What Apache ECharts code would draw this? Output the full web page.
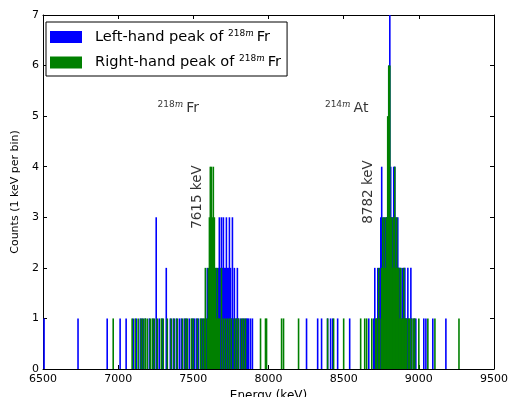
<!DOCTYPE html>
<html>
<head>
<meta charset="utf-8">
<script src="https://cdn.jsdelivr.net/npm/echarts@6/dist/echarts.min.js"></script>
<style>
  html, body { margin: 0; padding: 0; background: #fff; }
  #chart { width: 514px; height: 397px; }
</style>
</head>
<body>
<div id="chart"></div>
<script>
// 1 keV per bin histograms, only the non-empty bins are listed
const blueE = [6507, 6733, 6927, 7013, 7053, 7100, 7120, 7147, 7160, 7180, 7207, 7233, 7253, 7273, 7293, 7320,
  7347, 7367, 7387, 7407, 7420, 7440, 7453, 7473, 7493, 7507, 7520, 7533, 7553, 7567, 7587, 7593, 7600, 7613,
  7627, 7640, 7653, 7667, 7673, 7680, 7687, 7693, 7700, 7707, 7713, 7720, 7727, 7733, 7740, 7747, 7753, 7760,
  7767, 7773, 7780, 7787, 7793, 7800, 7813, 7827, 7840, 7853, 7860, 7867, 7880, 7893, 8253, 8327, 8353, 8393,
  8413, 8427, 8460, 8540, 8667, 8700, 8707, 8720, 8727, 8733, 8740, 8747, 8753, 8760, 8767, 8773, 8780, 8787,
  8793, 8800, 8807, 8813, 8820, 8827, 8833, 8840, 8847, 8853, 8860, 8867, 8873, 8880, 8887, 8893, 8900, 8907,
  8913, 8920, 8927, 8933, 8947, 8953, 8967, 8980, 9033, 9047, 9093, 9180];
const blueN = [1, 1, 1, 1, 1, 1, 1, 1, 1, 1, 1, 1, 3, 1, 1, 2,
  1, 1, 1, 1, 1, 1, 1, 1, 1, 1, 1, 1, 1, 1, 1, 2, 1, 1,
  2, 1, 2, 2, 3, 2, 3, 2, 3, 2, 2, 3, 2, 2, 3, 2, 1, 3,
  1, 2, 1, 1, 2, 1, 1, 1, 1, 1, 1, 1, 1, 1, 1, 1, 1, 1,
  1, 1, 1, 1, 1, 1, 2, 1, 2, 1, 2, 3, 4, 2, 3, 2, 3, 3,
  3, 6, 7, 4, 3, 3, 4, 4, 3, 2, 3, 2, 2, 2, 1, 2, 1, 2,
  1, 1, 2, 1, 2, 1, 1, 1, 1, 1, 1, 1];

const greenE = [6967, 7093, 7113, 7133, 7153, 7167, 7180, 7193, 7213, 7227, 7240, 7260, 7287, 7300, 7327, 7353,
  7373, 7393, 7427, 7447, 7460, 7487, 7500, 7527, 7547, 7560, 7573, 7580, 7593, 7600, 7607, 7613, 7620, 7627,
  7633, 7640, 7647, 7653, 7660, 7667, 7673, 7687, 7700, 7713, 7727, 7740, 7753, 7773, 7787, 7800, 7820, 7833,
  7847, 7947, 7980, 7987, 8087, 8100, 8200, 8393, 8433, 8500, 8613, 8640, 8653, 8687, 8713, 8720, 8733, 8740,
  8753, 8760, 8767, 8773, 8780, 8787, 8793, 8800, 8807, 8813, 8820, 8827, 8833, 8840, 8847, 8853, 8860, 8867,
  8873, 8880, 8887, 8893, 8900, 8907, 8913, 8920, 8933, 8940, 8953, 8967, 8973, 9000, 9060, 9107, 9267];
const greenN = [1, 1, 1, 1, 1, 1, 1, 1, 1, 1, 1, 1, 1, 1, 1, 1,
  1, 1, 1, 1, 1, 1, 1, 1, 1, 1, 1, 2, 1, 2, 3, 4, 4, 3,
  4, 3, 2, 1, 2, 1, 1, 2, 1, 1, 1, 1, 1, 1, 1, 1, 1, 1,
  1, 1, 1, 1, 1, 1, 1, 1, 1, 1, 1, 1, 1, 1, 1, 1, 2, 1,
  2, 3, 2, 3, 2, 3, 5, 6, 6, 3, 3, 2, 3, 4, 2, 3, 2, 2,
  1, 2, 1, 1, 2, 1, 1, 1, 1, 1, 1, 1, 1, 1, 1, 1, 1];

const xTicks = [6500, 7000, 7500, 8000, 8500, 9000, 9500];
const yTicks = [0, 1, 2, 3, 4, 5, 6, 7];

// text annotations: [energy, counts, text]
const notes = [
  [7400, 5.15, '{n|218}{i|m}{b|Fr}'],
  [8520, 5.15, '{n|214}{i|m}{b|At}'],
  [7530, 3.4, '7615 keV'],
  [8667, 3.5, '8782 keV'],
];

const FONT = 'DejaVu Sans';
const BLUE = '#0000ff';
const GREEN = '#008000';

const pairs = (es, ns) => es.map((e, i) => [e, ns[i]]);

const supRich = (size) => ({
  n: { fontSize: 9, fontFamily: FONT, padding: [0, 0, 7, 0], color: '#000' },
  i: { fontSize: 9, fontFamily: 'DejaVu Serif', fontStyle: 'italic', padding: [0, 3, 7, 0], color: '#000' },
  b: { fontSize: size, fontFamily: FONT, color: '#000' },
  p: { fontSize: size, fontFamily: FONT, color: '#000', padding: [0, 0, 0, 8] },
});

const frameAxis = {
  axisLine: { show: true, onZero: false, lineStyle: { color: '#000', width: 1 } },
  axisTick: { show: true, inside: true, length: 4, lineStyle: { color: '#000' } },
  splitLine: { show: false },
};

const chart = echarts.init(document.getElementById('chart'), null, { renderer: 'canvas' });
chart.setOption({
  animation: false,
  backgroundColor: '#fff',
  grid: { left: 43, right: 20, top: 15, bottom: 28, outerBoundsMode: 'none', containLabel: false },
  legend: {
    data: ['Left-hand peak of 218m Fr', 'Right-hand peak of 218m Fr'],
    orient: 'vertical',
    left: 46, top: 22,
    padding: [7, 6, 6, 4],
    itemGap: 10,
    itemWidth: 32, itemHeight: 12,
    icon: 'rect',
    backgroundColor: '#fff',
    borderColor: '#000', borderWidth: 1,
    formatter: (n) => '{p|' + n.replace(' 218m Fr', '') + ' }{n|218}{i|m}{b|Fr}',
    textStyle: { rich: supRich(14.6) },
  },
  xAxis: [
    {
      type: 'value', min: 6500, max: 9500, interval: 500,
      ...frameAxis,
      axisLabel: { color: '#000', fontFamily: FONT, fontSize: 11, margin: 5,
        formatter: (v) => xTicks.includes(v) ? String(v) : '' },
      name: 'Energy (keV)', nameLocation: 'middle', nameGap: 15,
      nameTextStyle: { color: '#000', fontFamily: FONT, fontSize: 12 },
    },
    { type: 'value', position: 'top', min: 6500, max: 9500, interval: 500, ...frameAxis, axisLabel: { show: false } },
  ],
  yAxis: [
    {
      type: 'value', min: 0, max: 7, interval: 1,
      ...frameAxis,
      axisLabel: { color: '#000', fontFamily: FONT, fontSize: 11, margin: 4,
        formatter: (v) => yTicks.includes(v) ? String(v) : '' },
      name: 'Counts (1 keV per bin)', nameLocation: 'middle', nameGap: 20, nameRotate: 90,
      nameTextStyle: { color: '#000', fontFamily: FONT, fontSize: 11 },
    },
    { type: 'value', position: 'right', min: 0, max: 7, interval: 1, ...frameAxis, axisLabel: { show: false } },
  ],
  series: [
    {
      name: 'Left-hand peak of 218m Fr', type: 'bar',
      data: pairs(blueE, blueN),
      barWidth: 1.6, barGap: '-100%',
      itemStyle: { color: BLUE },
      emphasis: { disabled: true },
    },
    {
      name: 'Right-hand peak of 218m Fr', type: 'bar',
      data: pairs(greenE, greenN),
      barWidth: 1.6, barGap: '-100%',
      itemStyle: { color: GREEN },
      emphasis: { disabled: true },
    },
    {
      type: 'scatter', symbolSize: 0, silent: true, z: 10,
      data: notes.map(([x, y, t]) => ({
        value: [x, y],
        label: {
          show: true, position: 'inside',
          rotate: t.includes('keV') ? 90 : 0,
          formatter: t,
          color: '#000', fontFamily: FONT, fontSize: 13.5,
          rich: supRich(14),
        },
      })),
    },
  ],
});
</script>
</body>
</html>
